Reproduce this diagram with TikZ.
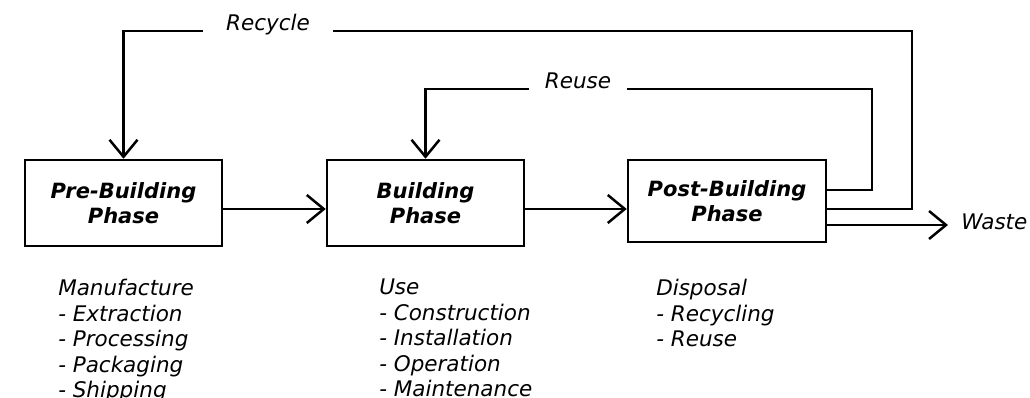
\documentclass[tikz,border=0pt]{standalone}
\usepackage{fontspec}
\setmainfont{DejaVu Sans}
\usetikzlibrary{arrows.meta}
\begin{document}
\begin{tikzpicture}[x=1pt,y=-1pt,
  line width=2.5pt, line join=miter,
  phase/.style={draw, minimum width=197pt, minimum height=86pt, inner sep=0pt, align=center,
    font=\fontsize{21}{25}\selectfont\bfseries\itshape},
  lbl/.style={font=\fontsize{21.5}{25.5}\selectfont\itshape, inner sep=0pt},
  flow/.style={-{Straight Barb[length=17pt,width=28pt]}},
  list/.style={lbl, align=left, anchor=north west}]
\useasboundingbox (0,0) rectangle (1030,398);
\node[phase] (b1) at (123.5,203) {Pre-Building\\Phase};
\node[phase] (b2) at (425.5,203) {Building\\Phase};
\node[phase, minimum width=198pt, minimum height=82pt] (b3) at (727,201) {Post-Building\\Phase};
\draw[flow] ([yshift=-6pt]b1.east) -- ([yshift=-6pt]b1.east -| b2.west);
\draw[flow] ([yshift=-6pt]b2.east) -- ([yshift=-6pt]b2.east -| b3.west);
% Reuse loop
\node[lbl, anchor=base, inner xsep=15pt] (lreuse) at (578,89) {Reuse};
\coordinate (rur) at (872,89);
\draw ([yshift=11pt]b3.east) -| (rur) -- (lreuse.base east);
\draw[flow] (lreuse.base west) -| (b2.north);
% Recycle loop
\node[lbl, anchor=base, inner xsep=22pt] (lrec) at (268,31) {Recycle};
\coordinate (rcr) at (912,31);
\draw ([yshift=-8pt]b3.east) -| (rcr) -- (lrec.base east);
\draw[flow] (lrec.base west) -| (b1.north);
% Waste
\node[lbl, anchor=west, inner xsep=12pt] (waste) at (948,222) {Waste};
\draw[flow] ([yshift=-24pt]b3.east) -- ([yshift=-24pt]b3.east -| waste.west);
% Lists
\node[list] (m1) at (57,278) {Manufacture\\- Extraction\\- Processing\\- Packaging\\- Shipping};
\node[list] (m2) at (378,278) {Use\\- Construction\\- Installation\\- Operation\\- Maintenance};
\node[list] (m3) at (655,278) {Disposal\\- Recycling\\- Reuse};
\end{tikzpicture}
\end{document}
